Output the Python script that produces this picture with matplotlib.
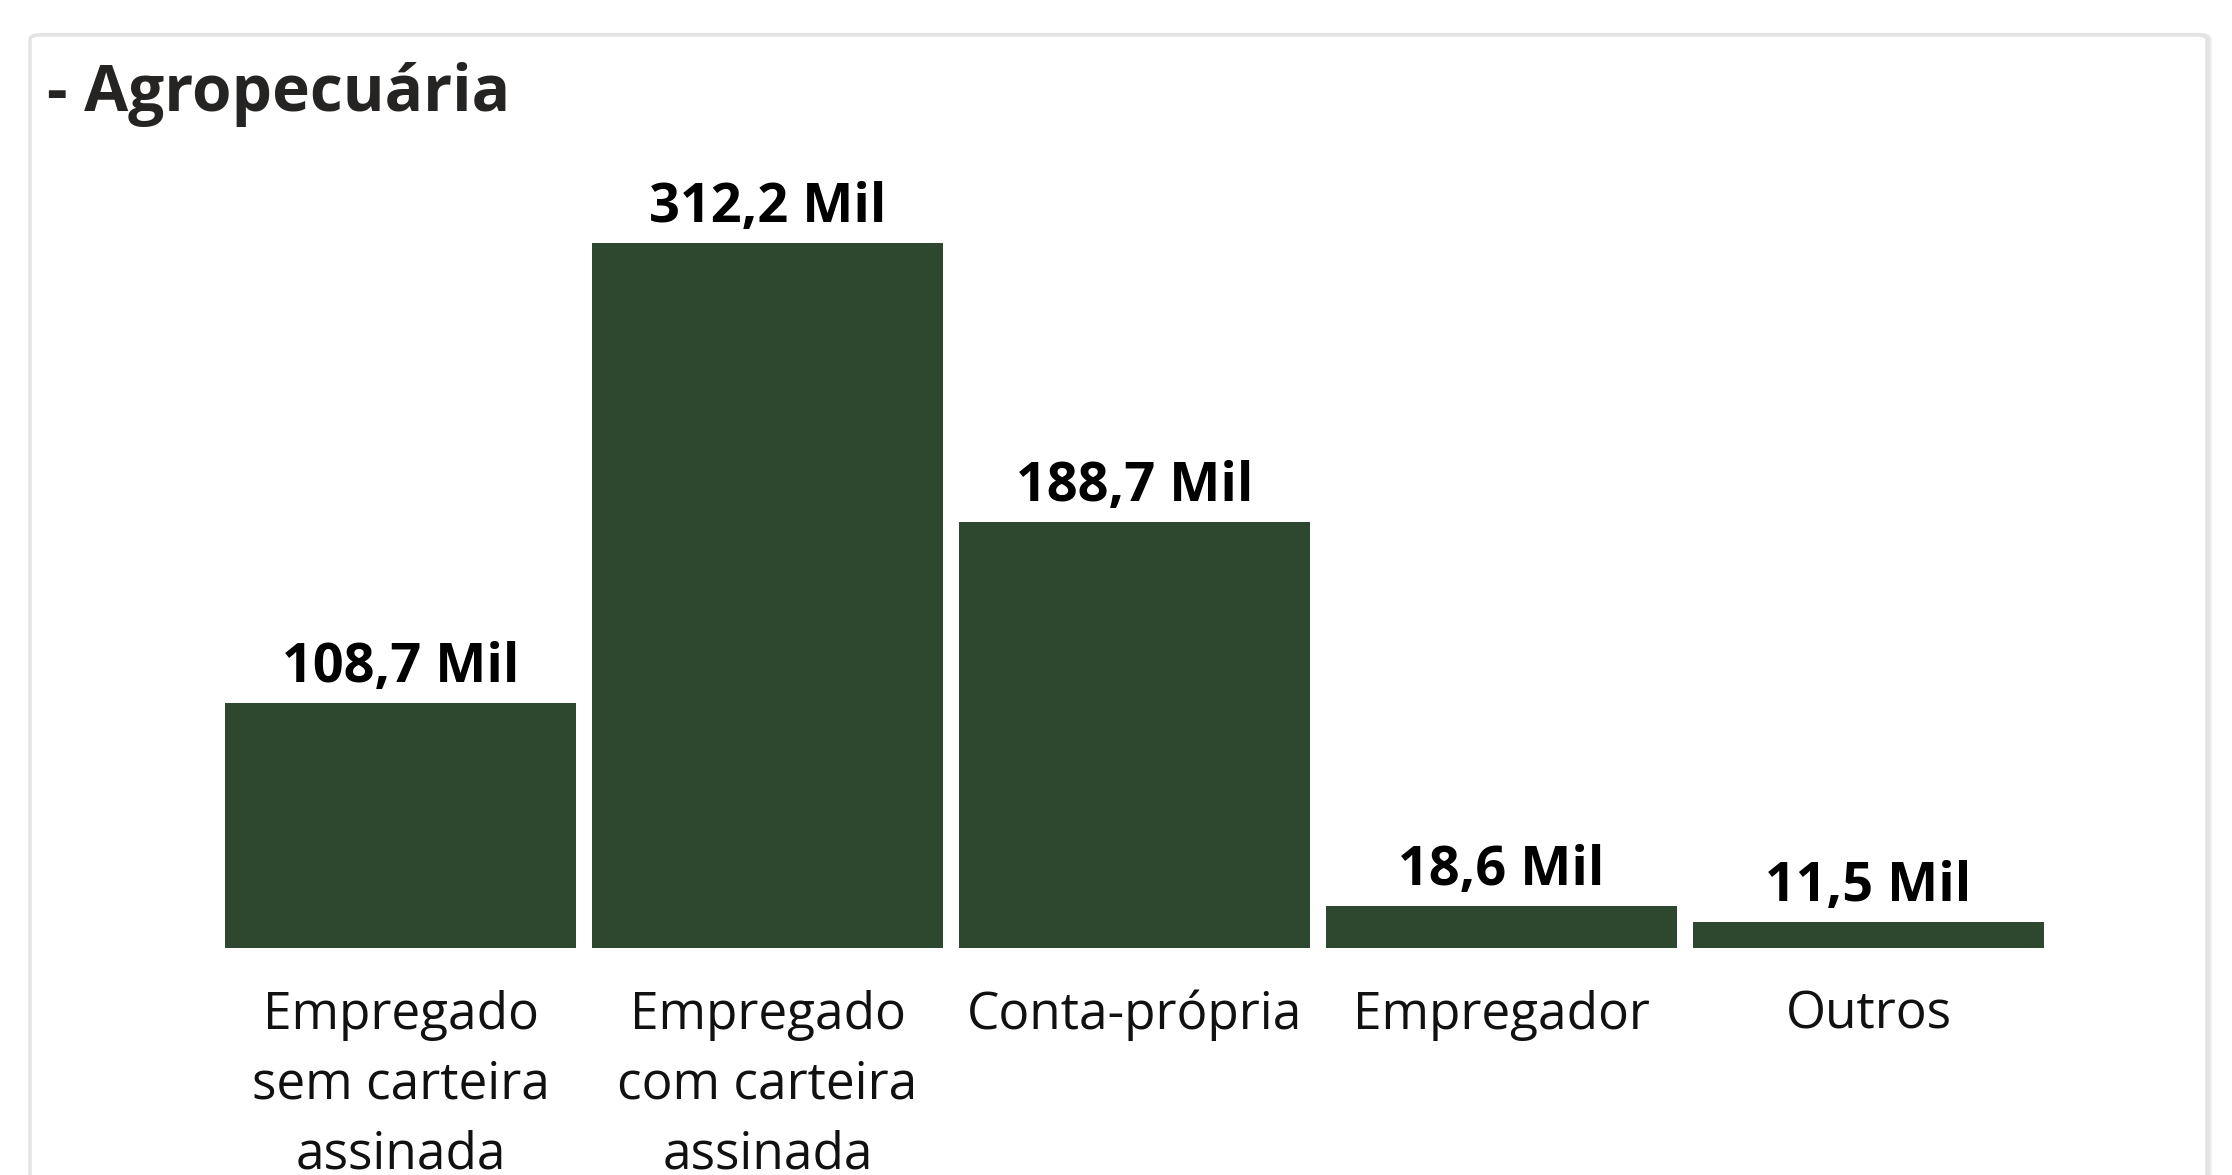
import matplotlib
matplotlib.use("Agg")
import matplotlib.pyplot as plt
from matplotlib.patches import FancyBboxPatch

plt.rcParams['font.family'] = ['Open Sans', 'DejaVu Sans']

# data
categorias = ["Empregado\nsem carteira\nassinada", "Empregado\ncom carteira\nassinada",
              "Conta-própria", "Empregador", "Outros"]
valores = [108.7, 312.2, 188.7, 18.6, 11.5]
rotulos = ["108,7 Mil", "312,2 Mil", "188,7 Mil", "18,6 Mil", "11,5 Mil"]

W, H = 2232, 1175
fig = plt.figure(figsize=(W / 100, H / 100), dpi=100)
fig.patch.set_facecolor("white")

# card background + soft shadow
for i, a in enumerate([0.03, 0.03, 0.04]):
    sh = FancyBboxPatch((30 / W + (i + 1) * 3 / W, -0.05), (2177 - (i + 1) * 2) / W, 1 - 35 / H + 0.05,
                        boxstyle="round,pad=0,rounding_size=0.004", transform=fig.transFigure,
                        facecolor="none", edgecolor=(0, 0, 0, a), linewidth=3, zorder=-2)
    fig.patches.append(sh)
card = FancyBboxPatch((30 / W, -0.05), 2177 / W, 1 - 35 / H + 0.05,
                      boxstyle="round,pad=0,rounding_size=0.004", transform=fig.transFigure,
                      facecolor="white", edgecolor="#e3e3e3", linewidth=2.5, zorder=-1)
fig.patches.append(card)

fig.text(47 / W, 1 - 111 / H, "- Agropecuária", fontsize=46, fontweight="bold",
         color="#252423", ha="left", va="baseline", zorder=5)

ax = fig.add_axes([217 / W, (H - 948) / H, 1835 / W, 705 / H])
ax.set_zorder(3)
ax.set_facecolor("none")
x = list(range(len(valores)))
ax.bar(x, valores, width=0.956, color="#2d482e", zorder=3)
ax.set_xlim(-0.5, len(valores) - 0.5)
ax.set_ylim(0, 312.2)
for s in ax.spines.values():
    s.set_visible(False)
ax.set_yticks([])
ax.set_xticks(x)
ax.set_xticklabels(categorias, fontsize=37, color="#111111", linespacing=1.49)
ax.tick_params(axis="x", length=0, pad=30)

for xi, v, t in zip(x, valores, rotulos):
    ax.annotate(t, (xi, v), xytext=(0, 21), textcoords="offset pixels",
                ha="center", va="baseline", fontsize=39, fontweight="bold",
                color="black", annotation_clip=False)

fig.savefig("out.png", dpi=100, facecolor="white")
